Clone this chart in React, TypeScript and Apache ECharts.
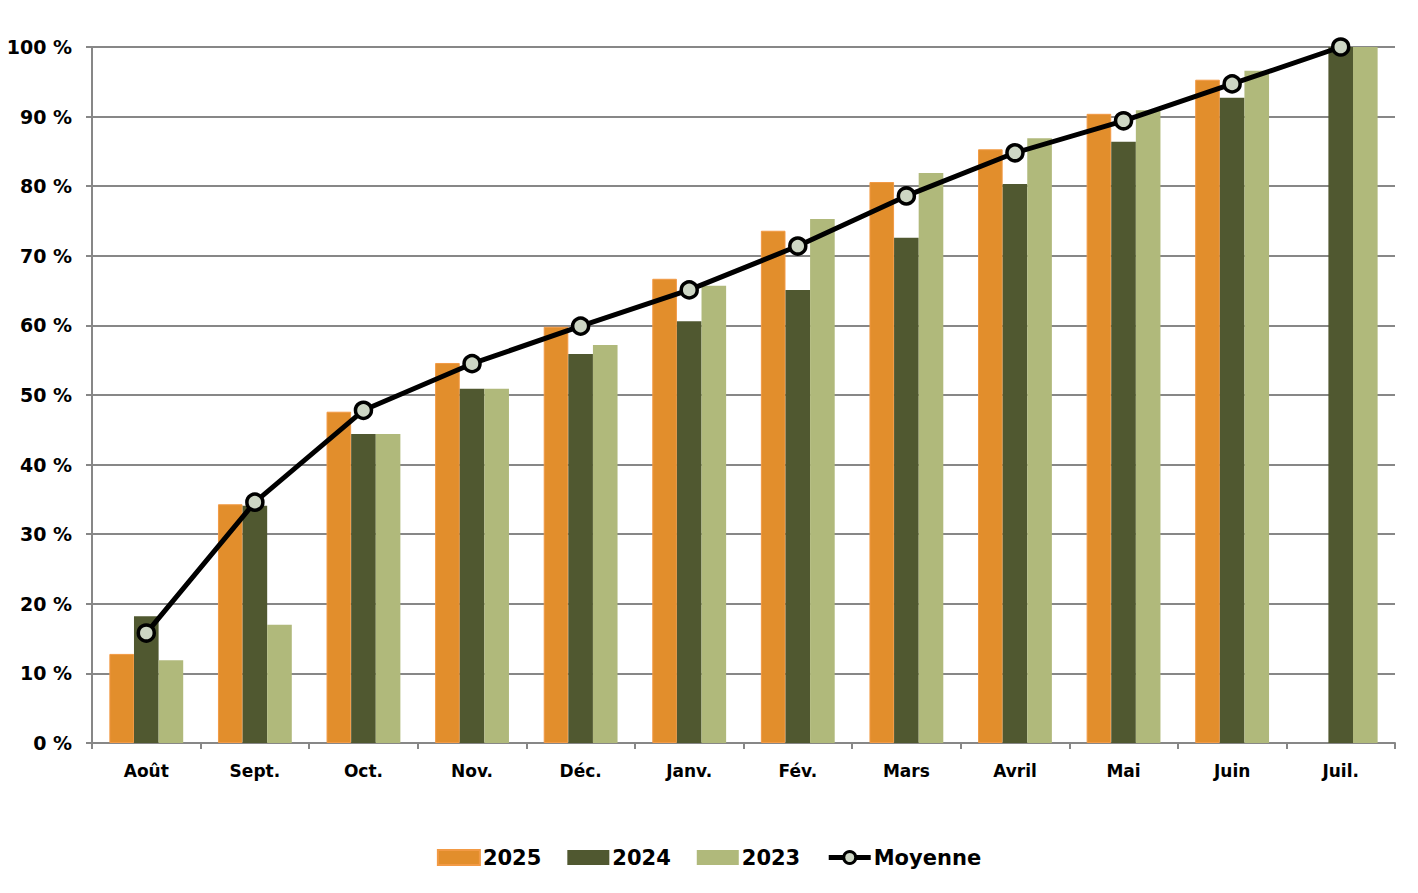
import { useEffect, useRef } from "react";
import * as echarts from "echarts";

const months = ["Août", "Sept.", "Oct.", "Nov.", "Déc.", "Janv.", "Fév.", "Mars", "Avril", "Mai", "Juin", "Juil."];

const values2025 = [12.8, 34.3, 47.6, 54.6, 59.8, 66.7, 73.6, 80.6, 85.3, 90.4, 95.3, null];
const values2024 = [18.2, 34.1, 44.4, 50.9, 55.9, 60.6, 65.1, 72.6, 80.3, 86.4, 92.7, 100];
const values2023 = [11.9, 17.0, 44.4, 50.9, 57.2, 65.7, 75.3, 81.9, 86.9, 90.9, 96.6, 100];
const average = [15.8, 34.6, 47.8, 54.5, 59.9, 65.1, 71.4, 78.6, 84.8, 89.4, 94.7, 100];

const FONT = "DejaVu Sans";
const AXIS_GREY = "#878787";

export default function App() {
  const nodeRef = useRef<HTMLDivElement | null>(null);

  useEffect(() => {
    document.body.style.margin = "0";
    if (!nodeRef.current) return;
    const chart = echarts.init(nodeRef.current, undefined, { renderer: "svg" });

    chart.setOption({
      animation: false,
      textStyle: { fontFamily: FONT },
      grid: { left: 92, right: 23, top: 47, bottom: 150 },
      legend: {
        bottom: 20,
        left: "center",
        itemWidth: 42,
        itemHeight: 15,
        itemGap: 26,
        textStyle: { fontFamily: FONT, fontSize: 21, fontWeight: "bold", color: "#000", padding: [0, 0, 0, -2] },
        data: [
          { name: "2025", icon: "rect" },
          { name: "2024", icon: "rect" },
          { name: "2023", icon: "rect" },
          {
            name: "Moyenne",
            lineStyle: { width: 5, color: "#000" },
            itemStyle: { color: "#CDD6C4", borderColor: "#000", borderWidth: 3 },
          },
        ],
      },
      xAxis: {
        type: "category",
        data: months,
        axisLine: { lineStyle: { color: AXIS_GREY, width: 2 } },
        axisTick: { show: true, length: 6, lineStyle: { color: AXIS_GREY, width: 2 } },
        axisLabel: { color: "#000", fontFamily: FONT, fontSize: 17, fontWeight: "bold", margin: 19 },
      },
      yAxis: {
        type: "value",
        min: 0,
        max: 100,
        interval: 10,
        axisLine: { show: true, lineStyle: { color: AXIS_GREY, width: 2 } },
        axisTick: { show: true, length: 6, lineStyle: { color: AXIS_GREY, width: 2 } },
        axisLabel: {
          color: "#000",
          fontFamily: FONT,
          fontSize: 19,
          fontWeight: "bold",
          margin: 20,
          formatter: (v: number) => `${v}\u00a0%`,
        },
        splitLine: { lineStyle: { color: AXIS_GREY, width: 2 } },
      },
      series: [
        {
          name: "2025",
          type: "bar",
          data: values2025,
          barGap: "0%",
          barCategoryGap: "32%",
          itemStyle: { color: "#E28E2C", borderColor: "#F29A45", borderWidth: 1 },
        },
        {
          name: "2024",
          type: "bar",
          data: values2024,
          barGap: "0%",
          barCategoryGap: "32%",
          itemStyle: { color: "#505830" },
        },
        {
          name: "2023",
          type: "bar",
          data: values2023,
          barGap: "0%",
          barCategoryGap: "32%",
          itemStyle: { color: "#B0B97B" },
        },
        {
          name: "Moyenne",
          type: "line",
          data: average,
          z: 5,
          symbol: "circle",
          symbolSize: 16,
          lineStyle: { color: "#000", width: 5 },
          itemStyle: { color: "#CDD6C4", borderColor: "#000", borderWidth: 3.5 },
        },
      ],
    });

    return () => chart.dispose();
  }, []);

  return <div ref={nodeRef} style={{ width: 1418, height: 893 }} />;
}
